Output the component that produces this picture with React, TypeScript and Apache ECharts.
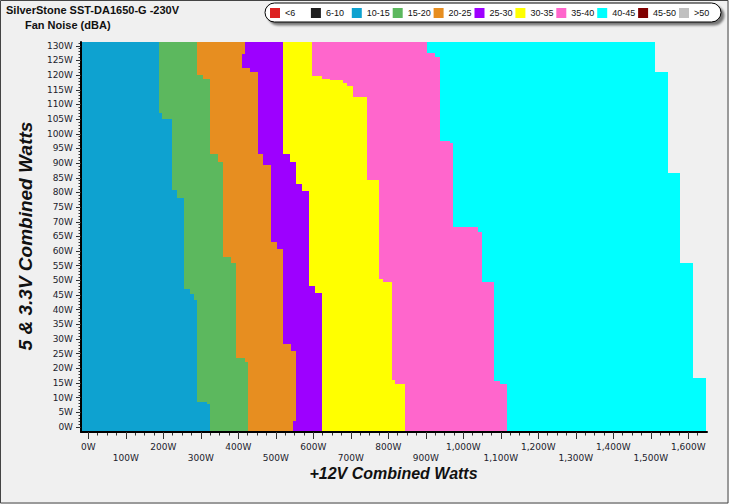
import React, { useEffect, useRef } from 'react';
import * as echarts from 'echarts';

// Legend classes (dBA)
const bandNames = ['<6', '6-10', '10-15', '15-20', '20-25', '25-30', '30-35', '35-40', '40-45', '45-50', '>50'];
const bandColors = ['#DD2222', '#1E1E1E', '#0EA2D0', '#5CB85E', '#E78E20', '#9D00FF', '#FFFF00', '#FF66CC', '#00FFFF', '#800000', '#C0C0C0'];

// Each edge: [from 5&3.3V watts (upward), +12V watts where the next class starts]
const edge10_15 = [[-1.7, 324.5], [7.7, 316.5], [8.4, 290], [43.4, 283], [45.5, 272], [47.1, 255], [78, 236], [80.7, 223], [105.2, 196], [107.2, 188.5]];
const edge15_20 = [[-1.7, 425], [22.1, 417], [23.7, 394], [55.9, 380], [58.1, 358.4], [90.4, 345], [93.2, 324.5], [118.7, 306], [120.1, 290.7]];
const edge20_25 = [[-1.7, 545], [2.0, 553], [25.8, 540], [28.4, 518.4], [60.7, 504], [63.2, 487.2], [89.2, 465], [93.2, 451.7], [120.9, 430], [122.6, 409], [127.2, 418]];
const edge25_30 = [[-1.7, 622.4], [45.7, 605], [48.1, 588.5], [80.5, 570], [83.0, 553], [90.4, 538], [93.2, 518.4]];
const edge30_35 = [[-1.7, 844.5], [14.8, 818], [15.9, 809], [49.6, 786], [50.5, 775.2], [84.1, 742.4], [112.7, 706.7], [116.4, 689], [117.4, 680], [118.3, 644.5], [118.8, 622.4], [119.6, 595.7]];
const edge35_40 = [[-1.7, 1115.7], [14.8, 1098], [15.6, 1082], [49.6, 1049], [66.6, 1039], [68.3, 971.7], [96.8, 964.5], [97.7, 938], [126.3, 924.5], [127.7, 902.4]];
const edge40_45 = [[-1.7, 1647], [16.7, 1612], [55.9, 1578], [86.5, 1546], [121.2, 1511]];

// Bands present in the map: class index -> [left edge, right edge]
const X_MIN = -19.5;
const X_MAX = 1650;
const Y_MIN = -1.7;
const Y_MAX = 131.3;
const leftStart = [[Y_MIN, X_MIN]];
const bandEdges: [number, number[][], number[][]][] = [
  [2, leftStart, edge10_15],
  [3, edge10_15, edge15_20],
  [4, edge15_20, edge20_25],
  [5, edge20_25, edge25_30],
  [6, edge25_30, edge30_35],
  [7, edge30_35, edge35_40],
  [8, edge35_40, edge40_45],
];

const xTickLabels = [0, 100, 200, 300, 400, 500, 600, 700, 800, 900, 1000, 1100, 1200, 1300, 1400, 1500, 1600];
const yTickLabels = [0, 5, 10, 15, 20, 25, 30, 35, 40, 45, 50, 55, 60, 65, 70, 75, 80, 85, 90, 95, 100, 105, 110, 115, 120, 125, 130];

function edgeAt(edge: number[][], y: number) {
  let x = edge[0][1];
  for (const [yf, xv] of edge) if (yf <= y + 1e-9) x = xv;
  return x;
}

function buildCells() {
  const cells: number[][] = [];
  for (const [cls, left, right] of bandEdges) {
    const ys = Array.from(new Set([...left.map((p) => p[0]), ...right.map((p) => p[0]), Y_MAX])).sort((a, b) => a - b);
    for (let i = 0; i < ys.length - 1; i++) {
      const y0 = ys[i];
      const y1 = ys[i + 1];
      const x0 = edgeAt(left, y0);
      const x1 = edgeAt(right, y0);
      if (x1 > x0) cells.push([x0, x1, y0, y1, cls]);
    }
  }
  return cells;
}

function fmtW(v: number) {
  const s = v >= 1000 ? Math.floor(v / 1000) + ',' + String(v % 1000).padStart(3, '0') : String(v);
  return s + 'W';
}

export default function App() {
  const ref = useRef<HTMLDivElement>(null);
  useEffect(() => {
    if (!ref.current) return;
    const chart = echarts.init(ref.current, null, { renderer: 'svg' });
    const cells = buildCells();
    const minorX: number[] = [];
    for (let v = 0; v <= 1625; v += 25) minorX.push(v);
    const minorY: number[] = [];
    for (let v = 0; v <= 131; v += 1) minorY.push(v);
    const labelFont = 'DejaVu Sans';
    const labelColor = '#1c1c2c';

    const legendItems: any[] = [];
    bandNames.forEach((n, i) => {
      const x = 270 + i * 40.9;
      legendItems.push({ type: 'rect', z: 12, shape: { x, y: 8, width: 10, height: 10 }, style: { fill: bandColors[i] } });
      legendItems.push({
        type: 'text', z: 12, x: x + 15, y: 13,
        style: { text: n, fill: '#111', font: '9px "Liberation Sans", Arial, sans-serif', verticalAlign: 'middle', align: 'left' },
      });
    });

    chart.setOption({
      animation: false,
      backgroundColor: '#F0F0F0',
      grid: { left: 81, right: 22, top: 42, bottom: 72, containLabel: false },
      xAxis: [
        {
          type: 'value', min: X_MIN, max: X_MAX, position: 'bottom', z: 5,
          axisLine: { show: true, onZero: false, lineStyle: { color: '#000', width: 2 } },
          axisTick: { show: true, length: 7, customValues: xTickLabels, lineStyle: { color: '#333', width: 1 } },
          axisLabel: {
            customValues: xTickLabels, margin: 9, fontSize: 9, lineHeight: 11, fontFamily: labelFont, color: labelColor,
            formatter: (v: number) => ((v / 100) % 2 === 1 ? '\n' + fmtW(v) : fmtW(v)),
          },
          splitLine: { show: false },
        },
        {
          type: 'value', min: X_MIN, max: X_MAX, position: 'bottom', z: 4,
          axisLine: { show: false, onZero: false },
          axisTick: { show: true, length: 3.5, customValues: minorX, lineStyle: { color: '#333', width: 1 } },
          axisLabel: { show: false },
          splitLine: { show: false },
        },
      ],
      yAxis: [
        {
          type: 'value', min: Y_MIN, max: Y_MAX, position: 'left', z: 5,
          axisLine: { show: true, onZero: false, lineStyle: { color: '#000', width: 2 } },
          axisTick: { show: true, length: 5, customValues: yTickLabels, lineStyle: { color: '#333', width: 1 } },
          axisLabel: { customValues: yTickLabels, margin: 8, fontSize: 9, fontFamily: labelFont, color: labelColor, formatter: (v: number) => fmtW(v) },
          splitLine: { show: false },
        },
        {
          type: 'value', min: Y_MIN, max: Y_MAX, position: 'left', z: 4,
          axisLine: { show: false, onZero: false },
          axisTick: { show: true, length: 2.5, customValues: minorY, lineStyle: { color: '#333', width: 1 } },
          axisLabel: { show: false },
          splitLine: { show: false },
        },
      ],
      series: [
        {
          type: 'custom',
          xAxisIndex: 0,
          yAxisIndex: 0,
          clip: true,
          data: cells,
          renderItem: (params: any, api: any) => {
            const p0 = api.coord([api.value(0), api.value(3)]);
            const p1 = api.coord([api.value(1), api.value(2)]);
            const x0 = Math.round(p0[0]);
            const y0 = Math.round(p0[1]);
            const x1 = Math.round(p1[0]);
            const y1 = Math.round(p1[1]);
            return {
              type: 'rect',
              shape: { x: x0, y: y0, width: x1 - x0, height: y1 - y0 },
              style: { fill: bandColors[api.value(4)], stroke: null },
            };
          },
        },
      ],
      graphic: [
        {
          type: 'text', left: 6, top: 4,
          style: { text: 'SilverStone SST-DA1650-G -230V', fill: '#111', font: 'bold 11px "Liberation Sans", Arial, sans-serif' },
        },
        {
          type: 'text', left: 25, top: 19,
          style: { text: 'Fan Noise (dBA)', fill: '#111', font: 'bold 11px "Liberation Sans", Arial, sans-serif' },
        },
        {
          type: 'rect', shape: { x: 265, y: 3, width: 456, height: 19, r: 9.5 },
          style: { fill: '#FFFFFF', stroke: '#000', lineWidth: 1, shadowBlur: 2, shadowOffsetX: 3, shadowOffsetY: 3, shadowColor: 'rgba(0,0,0,0.5)' },
          z: 10,
        },
        ...legendItems,
        {
          type: 'text', x: 393.5, y: 473,
          style: { text: '+12V Combined Watts', fill: '#111', font: 'italic bold 16px "Liberation Sans", Arial, sans-serif', align: 'center', verticalAlign: 'middle' },
        },
        {
          type: 'text', x: 25, y: 236, rotation: Math.PI / 2,
          style: { text: '5 & 3.3V Combined Watts', fill: '#111', font: 'italic bold 19px "Liberation Sans", Arial, sans-serif', align: 'center', verticalAlign: 'middle' },
        },
        {
          type: 'rect', shape: { x: 0.5, y: 0.5, width: 727.5, height: 502.5 },
          style: { fill: 'none', stroke: '#444', lineWidth: 1 }, z: 20,
        },
      ],
    });
    return () => chart.dispose();
  }, []);
  return <div ref={ref} style={{ position: 'absolute', left: 0, top: 0, width: 729, height: 504 }} />;
}
